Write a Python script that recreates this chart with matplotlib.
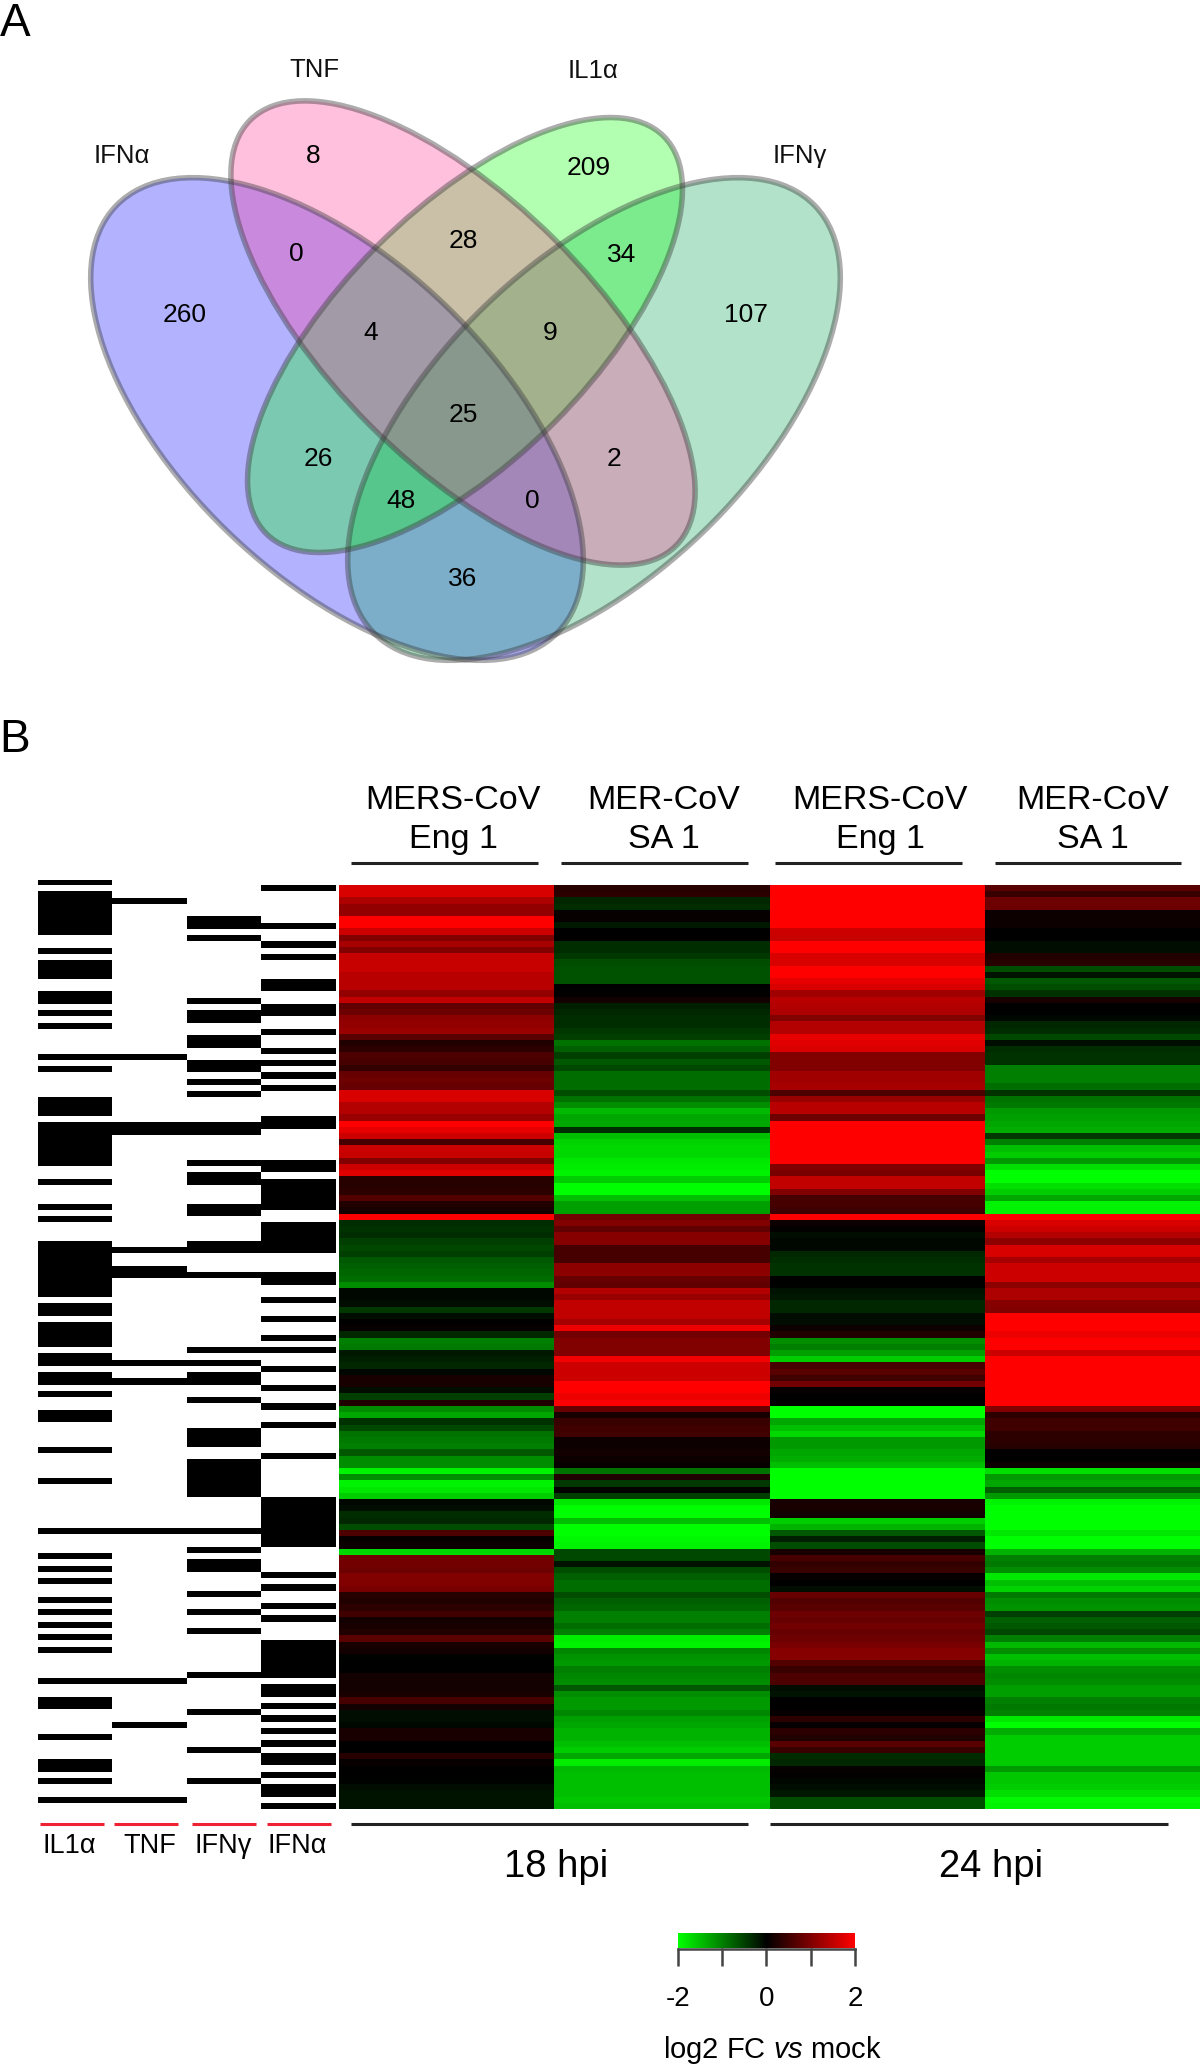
import numpy as np
import matplotlib
matplotlib.use('Agg')
import matplotlib.pyplot as plt
from matplotlib.patches import Ellipse
from matplotlib.colors import LinearSegmentedColormap, Normalize
from matplotlib.cm import ScalarMappable

plt.rcParams['font.family'] = ['Liberation Sans', 'DejaVu Sans']
plt.rcParams['mathtext.fontset'] = 'custom'
plt.rcParams['mathtext.rm'] = 'Liberation Sans'
plt.rcParams['mathtext.it'] = 'Liberation Sans:italic'

W, H = 1200, 2069

# venn counts
venn_counts = [260, 8, 209, 107, 0, 28, 34, 4, 9, 25, 26, 48, 0, 2, 36]
venn_count_xy = [(185, 315), (313, 156), (589, 168), (746, 315), (296, 254), (463, 241),
                 (622, 255), (371, 333), (550, 333), (463, 415), (318, 459), (401, 501),
                 (532, 501), (614, 459), (463, 579)]
venn_names = ['IFNα', 'TNF', 'IL1α', 'IFNγ']
venn_name_xy = [(122, 156), (314, 70), (593, 71), (800, 156)]
# drawing order: IFNα, IFNγ, IL1α, TNF
venn_colors = ['#0000ff', '#00a550', '#00ff00', '#ff3090']
venn_centers = [(337, 419), (594, 419), (465, 335), (463, 333)]
venn_axes = [(614, 314), (614, 314), (562, 250), (602, 262)]
venn_angles = [44, -44, -45, 45]

# gene membership, (first row, last row + 1)
il1a_spans = [(0, 1), (2, 9), (11, 12), (13, 16), (18, 20), (21, 22), (23, 24), (28, 29), (30, 31),
              (35, 38), (39, 46), (48, 49), (52, 53), (54, 55), (58, 67), (68, 70), (71, 75),
              (76, 78), (79, 81), (82, 83), (85, 87), (91, 92), (96, 97), (104, 105), (108, 109),
              (110, 111), (112, 113), (115, 116), (117, 118), (119, 120), (121, 122), (123, 124),
              (128, 129), (131, 133), (137, 138), (141, 143), (144, 145), (147, 148)]
tnf_spans = [(3, 4), (28, 29), (39, 41), (59, 60), (62, 64), (77, 78), (80, 81), (104, 105),
             (128, 129), (135, 136), (147, 148)]
ifng_spans = [(6, 8), (9, 10), (19, 20), (21, 23), (25, 27), (29, 31), (32, 33), (34, 35), (39, 41),
              (45, 46), (47, 49), (52, 54), (58, 60), (63, 64), (75, 76), (77, 78), (79, 81),
              (83, 84), (88, 91), (93, 99), (104, 105), (107, 108), (109, 111), (114, 115),
              (117, 118), (120, 121), (127, 128), (133, 134), (139, 140), (144, 145)]
ifna_spans = [(1, 2), (7, 8), (10, 11), (12, 13), (16, 18), (20, 22), (24, 25), (27, 28), (29, 30),
              (31, 32), (33, 34), (38, 40), (45, 47), (48, 53), (55, 60), (63, 65), (67, 68),
              (70, 71), (73, 74), (75, 76), (78, 79), (81, 82), (84, 85), (87, 88), (92, 93),
              (99, 107), (111, 112), (113, 114), (116, 117), (118, 119), (122, 128), (129, 131),
              (132, 133), (134, 135), (136, 137), (138, 139), (140, 142), (143, 144), (145, 147),
              (148, 149)]
treatments = ['IL1α', 'TNF', 'IFNγ', 'IFNα']

# log2 FC, one value per row
eng_18 = [1.7, 1.7, 1.35, 1.15, 1.15, 2, 2, 1.6, 1.0, 1.3,
          1.0, 1.55, 1.55, 1.55, 1.45, 1.45, 1.45, 1.15, 1.5, .75,
          .85, 1.1, 1.15, 1.2, .7, .25, .35, .6, .55, .4,
          .8, .85, .8, 1.7, 1.7, 1.4, 1.4, 1.2, 2, 1.8,
          1.6, .55, 1.6, 1.55, 1.0, 1.6, 1.75, .3, .3, .35,
          .65, .25, .2, 2, -.35, -.4, -.35, -.5, -.55, -.5,
          -.7, -.75, -.8, -.85, -1.1, -.05, -.05, -.1, -.45, -.1,
          0, .05, -.3, -1.0, -.95, -.2, -.25, -.3, -.05, .2,
          .2, -.1, -.5, .25, -1.1, -1.3, -.4, -.55, -.9, -.95,
          -1, -.7, -1.1, -1.1, -1.9, -1.1, -1.9, -1.8, -1.6, -.05,
          -.1, -.35, -.3, -.6, .6, .05, .1, -1.7, .9, .9,
          .85, 1, 1, .95, .3, .25, .35, .5, .15, .2,
          .25, .7, .2, .15, -.02, 0, 0, .15, .15, .15,
          .2, .55, .15, -.1, -.1, -.05, .2, .2, 0, 0,
          .3, .05, 0, 0, -.02, -.1, -.15, -.15, -.15]
sa_18 = [.3, .35, -.3, -.35, .05, .05, -.2, 0, 0, -.35,
         -.35, -.45, -.6, -.65, -.65, -.65, 0, .02, .15, -.25,
         -.3, -.35, -.35, -.45, -.5, -.9, -.75, -.5, -.7, -.55,
         -.85, -.85, -.85, -.6, -.9, -1.1, -1.45, -1.3, -1.3, -.35,
         -1.5, -1.65, -1.7, -1.7, -1.8, -1.85, -1.9, -1.6, -2, -2,
         -1.5, -1.25, -1.25, .9, 1.0, .75, 1.05, 1.05, .55, .55,
         .55, 1.1, 1.1, .8, .75, 1.4, 1.2, 1.5, 1.5, 1.5,
         1.3, 1.85, .9, 1, 1, 1, 1.9, 1.6, 1.6, 1.6,
         2, 2, 1.85, 2, .8, .2, .45, .5, .5, .1,
         .1, .15, .1, .05, -.9, .25, -.45, .02, -.5, -1.8,
         -2, -2, -1.5, -2, -2, -1.95, -1.9, -.55, -.55, -.15,
         -.6, -.75, -.85, -.85, -.6, -.75, -.8, -1, -1, -.85,
         -1, -1.85, -1.9, -1.05, -1.15, -1.2, -1, -1.05, -1.1, -.7,
         -1.1, -1.2, -1.2, -1.05, -1.25, -1.3, -1.4, -1.4, -1.5, -1.6,
         -1.3, -1.85, -1.45, -1.5, -1.5, -1.5, -1.5, -1.55, -1.5]
eng_24 = [2, 2, 2, 2, 2, 2, 2, 1.6, 1.55, 2,
          2, 1.7, 1.7, 2, 2, 1.8, 1.7, 1.25, 1.45, 1.4,
          1.35, 1, 1.4, 1.4, 1.8, 1.75, 1.7, 1, 1, 1,
          1.25, 1.25, 1.3, .6, 1.2, 1.45, 1.45, .85, 2, 2,
          2, 2, 2, 2, 2, 1, .95, 1.5, 1.5, 1,
          .55, .55, .5, 2, .1, .02, -.1, -.05, -.05, -.3,
          -.35, -.4, -.4, 0, -.02, -.15, -.2, -.3, -.3, -.1,
          -.1, .1, .25, -1.1, -1, -1.25, -1.6, .55, .7, .5,
          .9, .05, 0, 0, -2, -2, -1.3, -1.5, -1.7, -1.2,
          -1.2, -1.3, -1.35, -1.5, -2, -2, -2, -2, -2, .2,
          .2, .15, -1.6, -1.4, -.7, -.25, -.6, .2, .55, .4,
          .45, .05, 0, -.1, .8, .65, .7, .85, .8, .9,
          .8, .85, .95, 1.05, 1.05, .65, .45, .6, .6, -.1,
          -.15, 0, 0, .05, .35, .05, .35, .25, .7, .45,
          -.35, -.3, .05, .02, -.05, -.1, -.2, -.6, -.6]
sa_24 = [.7, .45, .85, .85, .1, .1, .1, 0, 0, -.1,
         -.1, .25, .3, -.6, -.15, -.7, -.6, -.4, .2, 0,
         0, -.05, -.3, -.35, -.55, -.1, -.35, -.4, -.4, -1,
         -1, -1, -.85, -.4, -.9, -.95, -1.2, -1.25, -1.3, -1.35,
         -.45, -1, -1.5, -1.6, -1.2, -1.75, -2, -2, -1.75, -1.6,
         -1.3, -1.9, -1.9, 2, 1.7, 1.6, 1.4, 1.1, 1.7, 1.7,
         1.3, 1.6, 1.6, 1.6, 1.1, 1.35, 1.35, 1.05, 1, 2,
         2, 2, 1.85, 2, 2, 1.6, 2, 2, 2, 2,
         2, 2, 2, 2, 1, .35, .5, .5, .35, .35,
         .3, 0, 0, .1, -1.75, -1.2, -1.3, -.75, -1.2, -1.9,
         -2, -2, -2, -2, -1.8, -2, -2, -1.4, -1, -.95,
         -1.1, -1.8, -1.5, -1.65, -.95, -1.1, -1.15, -.5, -.75, -.7,
         -.55, -1, -1.45, -1.1, -1.5, -1.4, -1.1, -1.05, -1.1, -1.25,
         -1.25, -1, -.95, -1, -1.8, -2, -1.35, -1.6, -1.6, -1.6,
         -1.6, -1.6, -1.2, -1.55, -1.55, -1.6, -1.75, -1.95, -1.9]
strains = ['MERS-CoV\nEng 1', 'MER-CoV\nSA 1', 'MERS-CoV\nEng 1', 'MER-CoV\nSA 1']
times = ['18 hpi', '24 hpi']
cbar_ticks = [-2, -1, 0, 1, 2]
cbar_labels = ['-2', '', '0', '', '2']


def px_axes(fig, x0, y0, x1, y1):
    return fig.add_axes([x0 / W, 1 - y1 / H, (x1 - x0) / W, (y1 - y0) / H])


fig = plt.figure(figsize=(12, 20.69), dpi=100)

# page axes in image pixels, used for venn, rules and labels
page = fig.add_axes([0, 0, 1, 1])
page.set_xlim(0, W)
page.set_ylim(H, 0)
page.axis('off')

for c, (a, b), ang, col in zip(venn_centers, venn_axes, venn_angles, venn_colors):
    page.add_patch(Ellipse(c, a, b, angle=ang, facecolor=col, alpha=0.3, edgecolor='none'))
for c, (a, b), ang in zip(venn_centers, venn_axes, venn_angles):
    page.add_patch(Ellipse(c, a, b, angle=ang, fill=False, edgecolor='#3a3a3a', alpha=0.42, linewidth=4))
for n, (x, y) in zip(venn_counts, venn_count_xy):
    page.text(x, y, str(n), fontsize=19, ha='center', va='center', color='black')
for name, (x, y) in zip(venn_names, venn_name_xy):
    page.text(x, y, name, fontsize=18.5, ha='center', va='center', color='#111111')

page.text(15, 24, 'A', fontsize=33, ha='center', va='center')
page.text(15, 740, 'B', fontsize=33, ha='center', va='center')

# membership matrix
mat = np.zeros((149, 4))
for col, spans in enumerate([il1a_spans, tnf_spans, ifng_spans, ifna_spans]):
    for a, b in spans:
        mat[a:b, col] = 1
ax_mat = px_axes(fig, 37.5, 880, 335, 1809.5)
ax_mat.imshow(mat, cmap='gray_r', vmin=0, vmax=1, aspect='auto', interpolation='nearest')
ax_mat.axis('off')

# heatmap
cmap = LinearSegmentedColormap.from_list('gbr', ['#00ff00', '#000000', '#ff0000'])
heat = np.array([eng_18, sa_18, eng_24, sa_24]).T
ax_heat = px_axes(fig, 338.5, 885, 1200, 1809)
ax_heat.imshow(heat, cmap=cmap, vmin=-2, vmax=2, aspect='auto', interpolation='nearest')
ax_heat.axis('off')

# strain headers
head_x = [(351, 538), (561, 748), (775, 962), (995, 1181)]
head_text_x = [453, 664, 880, 1093]
for (x0, x1), tx, s in zip(head_x, head_text_x, strains):
    page.plot([x0, x1], [863, 863], color='#222222', lw=2.2, solid_capstyle='butt')
    page.text(tx, 820, s, fontsize=24.5, ha='center', va='center', linespacing=1.3)

# treatment labels under the matrix
red_x = [(39.5, 104), (114, 178), (192, 256), (267, 331)]
label_x = [69, 150, 223.5, 297]
for (x0, x1), lx, t in zip(red_x, label_x, treatments):
    page.plot([x0, x1], [1824, 1824], color='#ee2233', lw=2.2, solid_capstyle='butt')
    page.text(lx, 1846, t, fontsize=19.5, ha='center', va='center')

# time points
time_x = [(350.5, 748), (770, 1168)]
for (x0, x1), t, tx in zip(time_x, times, [556, 991]):
    page.plot([x0, x1], [1824, 1824], color='#222222', lw=2.2, solid_capstyle='butt')
    page.text(tx, 1867, t, fontsize=27.5, ha='center', va='center')

# colour scale
cax = px_axes(fig, 678, 1933, 855, 1948)
cb = fig.colorbar(ScalarMappable(Normalize(-2, 2), cmap), cax=cax, orientation='horizontal',
                  ticks=cbar_ticks)
cb.outline.set_visible(False)
cb.ax.set_xticklabels(cbar_labels, fontsize=20)
cb.ax.tick_params(length=13, width=1.8, color='#444444', pad=14)
page.plot([678, 855], [1948.5, 1948.5], color='#444444', lw=1.8)
page.text(772, 2050, r'log2 FC $\mathit{vs}$ mock', fontsize=21, ha='center', va='center')

fig.savefig('out.png', dpi=100)
